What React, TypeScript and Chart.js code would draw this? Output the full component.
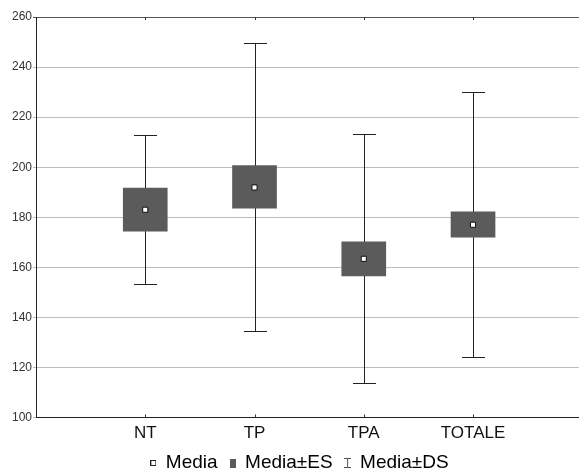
import React, { useEffect, useRef } from "react";
import { Chart, registerables } from "chart.js";

Chart.register(...registerables);

const categories = ["NT", "TP", "TPA", "TOTALE"];
const means = [183.0, 191.9, 163.4, 177.0];
const seLow = [174.4, 183.6, 156.6, 172.0];
const seHigh = [191.7, 200.6, 170.2, 182.2];
const sdLow = [153.2, 134.5, 113.6, 124.0];
const sdHigh = [212.8, 249.8, 213.3, 230.2];
const yTicks = [100, 120, 140, 160, 180, 200, 220, 240, 260];
const legendLabels = ["Media", "Media±ES", "Media±DS"];

const FONT = "'Liberation Sans', Arial, Helvetica, sans-serif";
const BOX_COLOR = "#5b5b5b";

function makeMarker(kind: number): HTMLCanvasElement {
  const c = document.createElement("canvas");
  const g = () => c.getContext("2d")!;
  if (kind === 0) {
    c.width = 6;
    c.height = 6;
    const x = g();
    x.fillStyle = "#222";
    x.fillRect(0, 0, 6, 6);
    x.fillStyle = "#fff";
    x.fillRect(1, 1, 4, 4);
  } else if (kind === 1) {
    c.width = 6;
    c.height = 9;
    const x = g();
    x.fillStyle = BOX_COLOR;
    x.fillRect(0, 0, 6, 9);
  } else {
    c.width = 7;
    c.height = 10;
    const x = g();
    x.strokeStyle = "#555";
    x.lineWidth = 1;
    x.beginPath();
    x.moveTo(0, 0.5);
    x.lineTo(7, 0.5);
    x.moveTo(0, 9.5);
    x.lineTo(7, 9.5);
    x.moveTo(3.5, 0.5);
    x.lineTo(3.5, 9.5);
    x.stroke();
  }
  return c;
}

const whiskerPlugin = {
  id: "whiskers",
  beforeLayout(chart: any) {
    const lg = chart.legend;
    if (lg && !lg._patchedFit) {
      const orig = lg.fit.bind(lg);
      lg.fit = function () {
        orig();
        this.height -= 9.5;
      };
      lg._patchedFit = true;
    }
  },
  afterLayout(chart: any) {
    const lg = chart.legend;
    if (lg) {
      lg.left += 10;
      lg.right += 10;
    }
  },
  beforeDatasetsDraw(chart: any) {
    const { ctx, scales } = chart;
    const x = scales.x;
    const y = scales.y;
    ctx.save();
    ctx.strokeStyle = "#222";
    ctx.lineWidth = 1;
    categories.forEach((_, i) => {
      const px = Math.round(x.getPixelForValue(i + 1)) + 0.5;
      const top = Math.round(y.getPixelForValue(sdHigh[i])) + 0.5;
      const bot = Math.round(y.getPixelForValue(sdLow[i])) + 0.5;
      ctx.beginPath();
      ctx.moveTo(px, top);
      ctx.lineTo(px, bot);
      ctx.moveTo(px - 11.5, top);
      ctx.lineTo(px + 11.5, top);
      ctx.moveTo(px - 11.5, bot);
      ctx.lineTo(px + 11.5, bot);
      ctx.stroke();
    });
    ctx.restore();
  },
  afterDraw(chart: any) {
    const { ctx, scales, chartArea } = chart;
    const x = scales.x;
    ctx.save();
    ctx.strokeStyle = "#333";
    ctx.lineWidth = 1;
    categories.forEach((_, i) => {
      const px = Math.round(x.getPixelForValue(i + 1)) + 0.5;
      ctx.beginPath();
      ctx.moveTo(px, chartArea.bottom);
      ctx.lineTo(px, chartArea.bottom - 3);
      ctx.moveTo(px, chartArea.top);
      ctx.lineTo(px, chartArea.top + 3);
      ctx.stroke();
    });
    ctx.restore();
  },
};

export default function App() {
  const ref = useRef<HTMLCanvasElement>(null);

  useEffect(() => {
    if (!ref.current) return;
    const markers = [0, 1, 2].map(makeMarker);
    const chart = new Chart(ref.current, {
      type: "bar",
      data: {
        datasets: [
          {
            type: "scatter",
            label: legendLabels[0],
            data: categories.map((_, i) => ({ x: i + 1, y: means[i] })),
            pointStyle: "rect",
            pointRadius: 3.6,
            backgroundColor: "#fff",
            borderColor: "#111",
            borderWidth: 1,
            order: 0,
          } as any,
          {
            type: "bar",
            label: legendLabels[1],
            data: categories.map((_, i) => ({ x: i + 1, y: [seLow[i], seHigh[i]] })),
            backgroundColor: BOX_COLOR,
            borderWidth: 0,
            barThickness: 44,
            order: 1,
          } as any,
        ],
      },
      options: {
        animation: false,
        responsive: false,
        maintainAspectRatio: false,
        devicePixelRatio: 1,
        layout: { autoPadding: false, padding: { top: 17, left: 0, right: 0, bottom: 0 } },
        plugins: {
          tooltip: { enabled: false },
          legend: {
            position: "bottom",
            labels: {
              usePointStyle: true,
              pointStyleWidth: 6,
              boxWidth: 6,
              padding: 12,
              color: "#111",
              font: { size: 19, family: FONT },
              generateLabels: () =>
                legendLabels.map((t, i) => ({
                  text: t,
                  pointStyle: markers[i] as any,
                  fillStyle: "#fff",
                  strokeStyle: "#fff",
                  lineWidth: 0,
                  hidden: false,
                  datasetIndex: i,
                })),
            },
          },
        },
        scales: {
          x: {
            type: "linear",
            min: 0,
            max: 4.97,
            offset: false,
            grid: { display: false, drawTicks: false, offset: false },
            border: { display: true, color: "#222", width: 1 },
            afterBuildTicks: (s: any) => {
              s.ticks = categories.map((_, i) => ({ value: i + 1 }));
            },
            afterFit: (s: any) => {
              s.height = 24;
              s.paddingLeft = 0;
              s.paddingRight = 0;
            },
            ticks: {
              autoSkip: false,
              maxRotation: 0,
              padding: 6,
              color: "#111",
              font: { size: 17, family: FONT },
              callback: (v: any) => categories[Number(v) - 1] ?? "",
            },
          },
          y: {
            type: "linear",
            min: 100,
            max: 260,
            afterBuildTicks: (s: any) => {
              s.ticks = yTicks.map((v) => ({ value: v }));
            },
            afterFit: (s: any) => {
              s.width = 36;
            },
            grid: {
              color: (c: any) => (c.tick && c.tick.value === 260 ? "#555" : "#bdbdbd"),
              tickLength: 3,
              lineWidth: 1,
            },
            border: { display: true, color: "#222", width: 1 },
            ticks: {
              padding: 1,
              color: "#333",
              font: { size: 12, family: FONT },
            },
          },
        },
      } as any,
      plugins: [whiskerPlugin],
    });
    return () => chart.destroy();
  }, []);

  return (
    <div style={{ position: "fixed", left: 0, top: 0, width: 579, height: 473, overflow: "hidden", background: "#fff" }}>
      <canvas ref={ref} width={579} height={473} style={{ display: "block" }} />
    </div>
  );
}
